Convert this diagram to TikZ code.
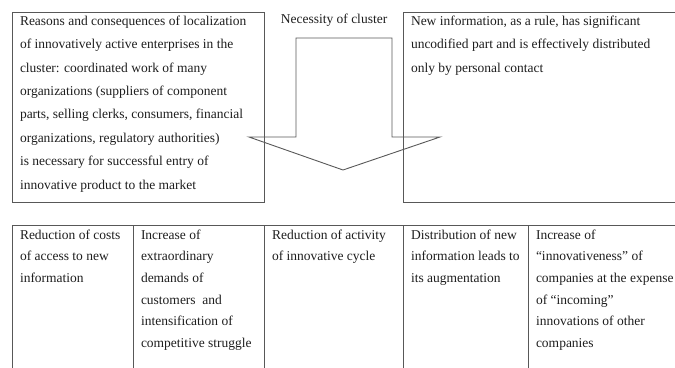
\documentclass[tikz,border=0pt]{standalone}
\usepackage{fontspec}
\setmainfont{Liberation Serif}
\definecolor{FrameGray}{RGB}{88,88,88}
\definecolor{InkBlack}{RGB}{30,30,30}
\usetikzlibrary{positioning}

\begin{document}
\begin{tikzpicture}[x=1pt, y=-1pt,
      every node/.style={text=InkBlack, inner sep=0pt, outer sep=0pt},
      cell/.style={draw=FrameGray, line width=0.9pt, anchor=north west,
                   minimum height=#1},
      cell/.default=190pt,
      toptext/.style={align=left, font={\fontsize{13.5}{23.4}\selectfont}},
      bottext/.style={align=left, font={\fontsize{13.5}{21.7}\selectfont}},
      arrowline/.style={draw=FrameGray, line width=0.9pt, line join=miter}
  ]
    \clip (0,0) rectangle (675,367);
    % upper row
    \node[cell, minimum width=252pt] (reasons) at (12,12) {};
    \node[cell, minimum width=300pt] (newinfo) at (403,12) {};
    \node[toptext, below right=3.8pt and 8pt of reasons.north west] (reasonstxt)
      {Reasons and consequences of localization\\
       of innovatively active enterprises in the\\
       cluster: coordinated work of many\\
       organizations (suppliers of component\\
       parts, selling clerks, consumers, financial\\
       organizations, regulatory authorities)\\
       is necessary for successful entry of\\
       innovative product to the market};
    \node[toptext, below right=3.8pt and 8pt of newinfo.north west] (newinfotxt)
      {New information, as a rule, has significant\\
       uncodified part and is effectively distributed\\
       only by personal contact};
    \node[toptext] (necessity) at (334,20) {Necessity of cluster};
    % block arrow
    \draw[arrowline] (296,38) -- (296,137) -- (249,137) -- (343,170)
      -- (440,137) -- (392,137) -- (392,38) -- cycle;
    % lower row
    \node[cell=200pt, minimum width=121pt] (costs) at (12,225) {};
    \node[cell=200pt, minimum width=131pt, right=0pt of costs] (demands) {};
    \node[cell=200pt, minimum width=139pt, right=0pt of demands] (cycle) {};
    \node[cell=200pt, minimum width=125pt, right=0pt of cycle] (distrib) {};
    \node[cell=200pt, minimum width=200pt, right=0pt of distrib] (innov) {};
    \node[bottext, below right=4.5pt and 8pt of costs.north west] (coststxt)
      {Reduction of costs\\ of access to new\\ information};
    \node[bottext, below right=4.5pt and 8pt of demands.north west] (demandstxt)
      {Increase of\\ extraordinary\\ demands of\\ customers~ and\\
       intensification of\\ competitive struggle};
    \node[bottext, below right=4.5pt and 8pt of cycle.north west] (cycletxt)
      {Reduction of activity\\ of innovative cycle};
    \node[bottext, below right=4.5pt and 8pt of distrib.north west] (distribtxt)
      {Distribution of new\\ information leads to\\ its augmentation};
    \node[bottext, below right=4.5pt and 8pt of innov.north west] (innovtxt)
      {Increase of\\ “innovativeness” of\\ companies at the expense\\
       of “incoming”\\ innovations of other\\ companies};
  \end{tikzpicture}
\end{document}
